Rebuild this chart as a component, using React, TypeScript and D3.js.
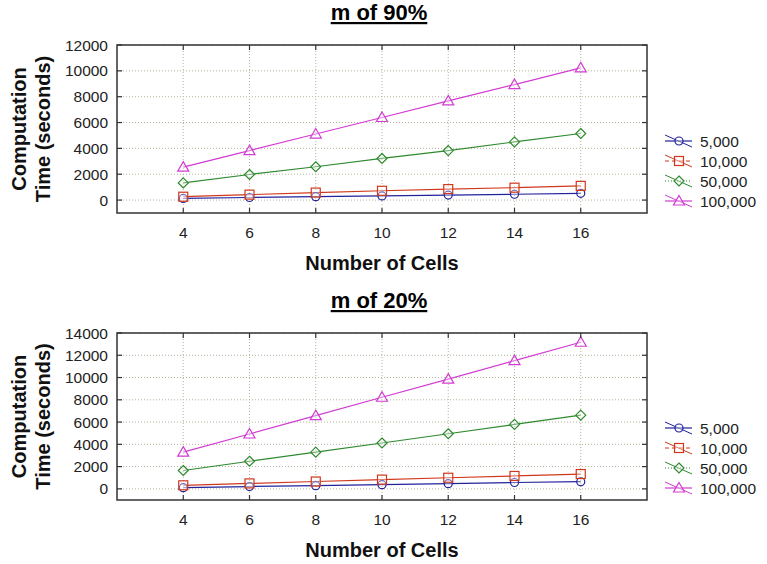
import React from "react";
import * as d3 from "d3";

const cells = [4, 6, 8, 10, 12, 14, 16];
const seriesNames = ["5,000", "10,000", "50,000", "100,000"];
const seriesColors = ["#22229c", "#d0381c", "#2f8a2f", "#d23cd2"];
const seriesMarkers = ["circle", "square", "diamond", "triangle"];
const legendDash = ["", "4,3", "1,2", ""];

// m of 90%
const top5000 = [130, 200, 260, 320, 390, 450, 520];
const top10000 = [260, 420, 580, 720, 850, 960, 1100];
const top50000 = [1330, 1980, 2580, 3220, 3830, 4500, 5150];
const top100000 = [2550, 3830, 5110, 6390, 7680, 8940, 10230];
const topYTicks = [0, 2000, 4000, 6000, 8000, 10000, 12000];

// m of 20%
const bot5000 = [110, 210, 290, 380, 470, 570, 650];
const bot10000 = [320, 490, 660, 830, 1000, 1160, 1330];
const bot50000 = [1650, 2480, 3300, 4120, 4950, 5790, 6620];
const bot100000 = [3300, 4930, 6580, 8230, 9860, 11520, 13170];
const botYTicks = [0, 2000, 4000, 6000, 8000, 10000, 12000, 14000];

const FONT = "'Liberation Sans', Arial, sans-serif";

function Marker({ kind, x, y, color }: { kind: string; x: number; y: number; color: string }) {
  const common = { fill: "rgba(255,255,255,0.35)", stroke: color, strokeWidth: 1.2 };
  if (kind === "circle") return <circle cx={x} cy={y} r={4} {...common} />;
  if (kind === "square") return <rect x={x - 4.5} y={y - 4.5} width={9} height={9} {...common} />;
  if (kind === "diamond")
    return <path d={`M${x},${y - 5}L${x + 5},${y}L${x},${y + 5}L${x - 5},${y}Z`} {...common} />;
  return <path d={`M${x},${y - 5.5}L${x + 5.5},${y + 4}L${x - 5.5},${y + 4}Z`} {...common} />;
}

function Panel({
  top,
  title,
  yTicks,
  yMax,
  series,
}: {
  top: number;
  title: string;
  yTicks: number[];
  yMax: number;
  series: number[][];
}) {
  const left = 117;
  const right = 647;
  const boxTop = top + 45;
  const boxBottom = top + 213 - (yMax === 14000 ? 1 : 0);
  const x = d3.scaleLinear().domain([2, 18]).range([left, right]);
  const y = d3.scaleLinear().domain([-1000, yMax]).range([boxBottom, boxTop]);
  const line = d3
    .line<number>()
    .x((_, i) => x(cells[i]))
    .y((d) => y(d));
  const gridColor = "#b4b49c";
  const tickLen = 5;
  const midY = (boxTop + boxBottom) / 2;
  return (
    <g>
      <text
        x={379}
        y={boxTop - 25}
        textAnchor="middle"
        fontFamily={FONT}
        fontWeight="bold"
        fontSize={22}
        textDecoration="underline"
        fill="#000"
      >
        {title}
      </text>
      {/* grid */}
      {yTicks.map((t) => (
        <line key={"gy" + t} x1={left} x2={right} y1={y(t)} y2={y(t)} stroke={gridColor} strokeWidth={1} strokeDasharray="1,2" />
      ))}
      {cells.map((c) => (
        <line key={"gx" + c} x1={x(c)} x2={x(c)} y1={boxTop} y2={boxBottom} stroke={gridColor} strokeWidth={1} strokeDasharray="1,2" />
      ))}
      {/* series */}
      {series.map((vals, si) => (
        <g key={"s" + si}>
          <path d={line(vals) || ""} fill="none" stroke={seriesColors[si]} strokeWidth={1.2} />
        </g>
      ))}
      {series.map((vals, si) => (
        <g key={"m" + si}>
          {vals.map((v, i) => (
            <Marker key={i} kind={seriesMarkers[si]} x={x(cells[i])} y={y(v)} color={seriesColors[si]} />
          ))}
        </g>
      ))}
      {/* frame */}
      <rect x={left} y={boxTop} width={right - left} height={boxBottom - boxTop} fill="none" stroke="#333" strokeWidth={1.5} />
      {/* ticks */}
      {yTicks.map((t) => (
        <g key={"ty" + t}>
          <line x1={left} x2={left + tickLen} y1={y(t)} y2={y(t)} stroke="#333" strokeWidth={1.2} />
          <line x1={right - tickLen} x2={right} y1={y(t)} y2={y(t)} stroke="#333" strokeWidth={1.2} />
          <text x={108} y={y(t)} dy="0.36em" textAnchor="end" fontFamily={FONT} fontSize={15.5} fill="#222">
            {t}
          </text>
        </g>
      ))}
      {cells.map((c) => (
        <g key={"tx" + c}>
          <line x1={x(c)} x2={x(c)} y1={boxTop} y2={boxTop + tickLen} stroke="#333" strokeWidth={1.2} />
          <line x1={x(c)} x2={x(c)} y1={boxBottom - tickLen} y2={boxBottom} stroke="#333" strokeWidth={1.2} />
          <text x={x(c)} y={boxBottom + 25} textAnchor="middle" fontFamily={FONT} fontSize={15.5} fill="#222">
            {c}
          </text>
        </g>
      ))}
      {/* axis titles */}
      <text x={382} y={boxBottom + 57} textAnchor="middle" fontFamily={FONT} fontWeight="bold" fontSize={20} fill="#111">
        Number of Cells
      </text>
      <text transform={`translate(26,${midY}) rotate(-90)`} textAnchor="middle" fontFamily={FONT} fontWeight="bold" fontSize={20} fill="#111">
        Computation
      </text>
      <text transform={`translate(50,${midY}) rotate(-90)`} textAnchor="middle" fontFamily={FONT} fontWeight="bold" fontSize={20} fill="#111">
        Time (seconds)
      </text>
      {/* legend */}
      {seriesNames.map((name, si) => {
        const ly = boxBottom - 12 - 20 * (3 - si);
        return (
          <g key={"l" + si}>
            <line x1={665} x2={692} y1={ly} y2={ly} stroke={seriesColors[si]} strokeWidth={1.2} strokeDasharray={legendDash[si] || undefined} />
            <line x1={665} x2={692} y1={ly - 6} y2={ly + 6} stroke={seriesColors[si]} strokeWidth={1} />
            <Marker kind={seriesMarkers[si]} x={679} y={ly} color={seriesColors[si]} />
            <text x={700} y={ly} dy="0.36em" fontFamily={FONT} fontSize={15.5} fill="#222">
              {name}
            </text>
          </g>
        );
      })}
    </g>
  );
}

export default function App() {
  return (
    <svg
      width={767}
      height={564}
      style={{ position: "absolute", left: 0, top: 0, background: "#fff" }}
    >
      <rect width={767} height={564} fill="#fff" />
      <Panel top={0} title="m of 90%" yTicks={topYTicks} yMax={12000} series={[top5000, top10000, top50000, top100000]} />
      <Panel top={288} title="m of 20%" yTicks={botYTicks} yMax={14000} series={[bot5000, bot10000, bot50000, bot100000]} />
    </svg>
  );
}
